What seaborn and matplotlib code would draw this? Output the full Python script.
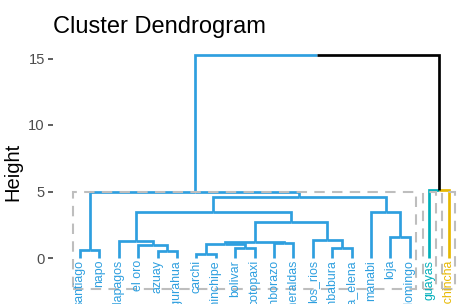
import numpy as np
import pandas as pd
import matplotlib
matplotlib.use("Agg")
import matplotlib.pyplot as plt
import seaborn as sns
from matplotlib.patches import Rectangle

# ---------------- data ----------------
labels = ["santiago", "napo", "galapagos", "el oro", "azuay", "tungurahua",
          "carchi", "zamora_chinchipe", "bolivar", "cotopaxi", "chimborazo",
          "esmeraldas", "los_rios", "imbabura", "santa_elena", "manabi",
          "loja", "santo_domingo", "guayas", "pichincha"]
cluster = [1, 1, 1, 1, 1, 1, 1, 1, 1, 1, 1, 1, 1, 1, 1, 1, 1, 1, 2, 3]
# hclust-style merges: negative = leaf (1-based, in display order), positive = earlier merge row
merge_left = [-7, -5, -1, -9, -14, -4, 1, -11, 7, -3, -13, -17, 9, 10, -16, 14, 3, -19, 17]
merge_right = [-8, -6, -2, -10, -15, 2, 4, -12, 8, 6, 5, -18, 11, 13, 12, 15, 16, -20, 18]
merge_height = [0.28, 0.55, 0.60, 0.73, 0.72, 0.98, 1.03, 1.15, 1.20, 1.28,
                1.35, 1.55, 2.70, 3.43, 3.45, 4.60, 4.95, 5.10, 15.3]
cluster_colors = {1: "#2E9FDF", 2: "#00AFBB", 3: "#E7B800"}
rect_top = 5.0
rect_bottom = -2.33
yticks = [0, 5, 10, 15]
title = "Cluster Dendrogram"
ylabel = "Height"

# ---------------- layout of the tree ----------------
nodes = {}


def info(ref):
    if ref < 0:
        i = -ref - 1
        return (i + 1.0, 0.0, {cluster[i]})
    return nodes[ref]


segs = []
for r, (a, b, h) in enumerate(zip(merge_left, merge_right, merge_height), start=1):
    xa, ha, ca = info(a)
    xb, hb, cb = info(b)
    xm = (xa + xb) / 2
    nodes[r] = (xm, h, ca | cb)
    col_a = cluster_colors[next(iter(ca))] if len(ca) == 1 else "#000000"
    col_b = cluster_colors[next(iter(cb))] if len(cb) == 1 else "#000000"
    segs.append(([xa, xa, xm], [ha, h, h], col_a))
    segs.append(([xm, xb, xb], [h, h, hb], col_b))

rows = []
for sid, (xs, ys, c) in enumerate(segs):
    for k, (x, y) in enumerate(zip(xs, ys)):
        rows.append({"seg": sid, "order": k, "x": x, "y": y, "color": c})
seg_df = pd.DataFrame(rows)

# ---------------- plot ----------------
sns.set_theme(style="white")
plt.rcParams["font.family"] = ["Liberation Sans", "DejaVu Sans"]

W, H = 464, 304
fig = plt.figure(figsize=(W / 100, H / 100), dpi=100)
ax_left, ax_right, ax_top = 53, 462, 40
ax = fig.add_axes([ax_left / W, 0, (ax_right - ax_left) / W, 1 - ax_top / H])

palette = {c: c for c in seg_df["color"].unique()}
sns.lineplot(data=seg_df, x="x", y="y", units="seg", estimator=None,
             hue="color", palette=palette, sort=False, legend=False,
             linewidth=1.95, ax=ax)
for line in ax.lines:
    line.set_solid_capstyle("butt")
    line.set_solid_joinstyle("miter")

# cluster rectangles
for c in sorted(set(cluster)):
    idx = [i + 1 for i, cc in enumerate(cluster) if cc == c]
    x0, x1 = min(idx) - 0.34, max(idx) + 0.34
    ax.add_patch(Rectangle((x0, rect_bottom), x1 - x0, rect_top - rect_bottom,
                           fill=False, edgecolor="#BEBEBE", linewidth=1.5,
                           linestyle=(0, (5, 3.5)), zorder=5))

# leaf labels
for i, (lab, c) in enumerate(zip(labels, cluster)):
    ax.text(i + 1, -0.15, lab, rotation=90, ha="center", va="top",
            color=cluster_colors[c], fontsize=8.9, zorder=6)

px_per_unit = 13.3
y0_px = 258
ax.set_ylim(-(H - y0_px) / px_per_unit, (y0_px - ax_top) / px_per_unit)
lx = 19.4
ax.set_xlim(1 + (ax_left - 80) / lx, 1 + (ax_right - 80) / lx)

ax.set_yticks(yticks)
ax.set_yticklabels([str(t) for t in yticks])
ax.set_xticks([])
ax.tick_params(axis="y", left=True, length=3.6, width=1.1, color="#333333",
               labelcolor="#4D4D4D", labelsize=10.6, pad=2.2)
for s in ax.spines.values():
    s.set_visible(False)
ax.set_xlabel("")
ax.set_ylabel(ylabel, fontsize=14.5, color="black")
ax.yaxis.set_label_coords(-0.075, 0.5)
ax.set_title(title, loc="left", fontsize=17, color="black", pad=5)

fig.savefig("out.png", dpi=100)
